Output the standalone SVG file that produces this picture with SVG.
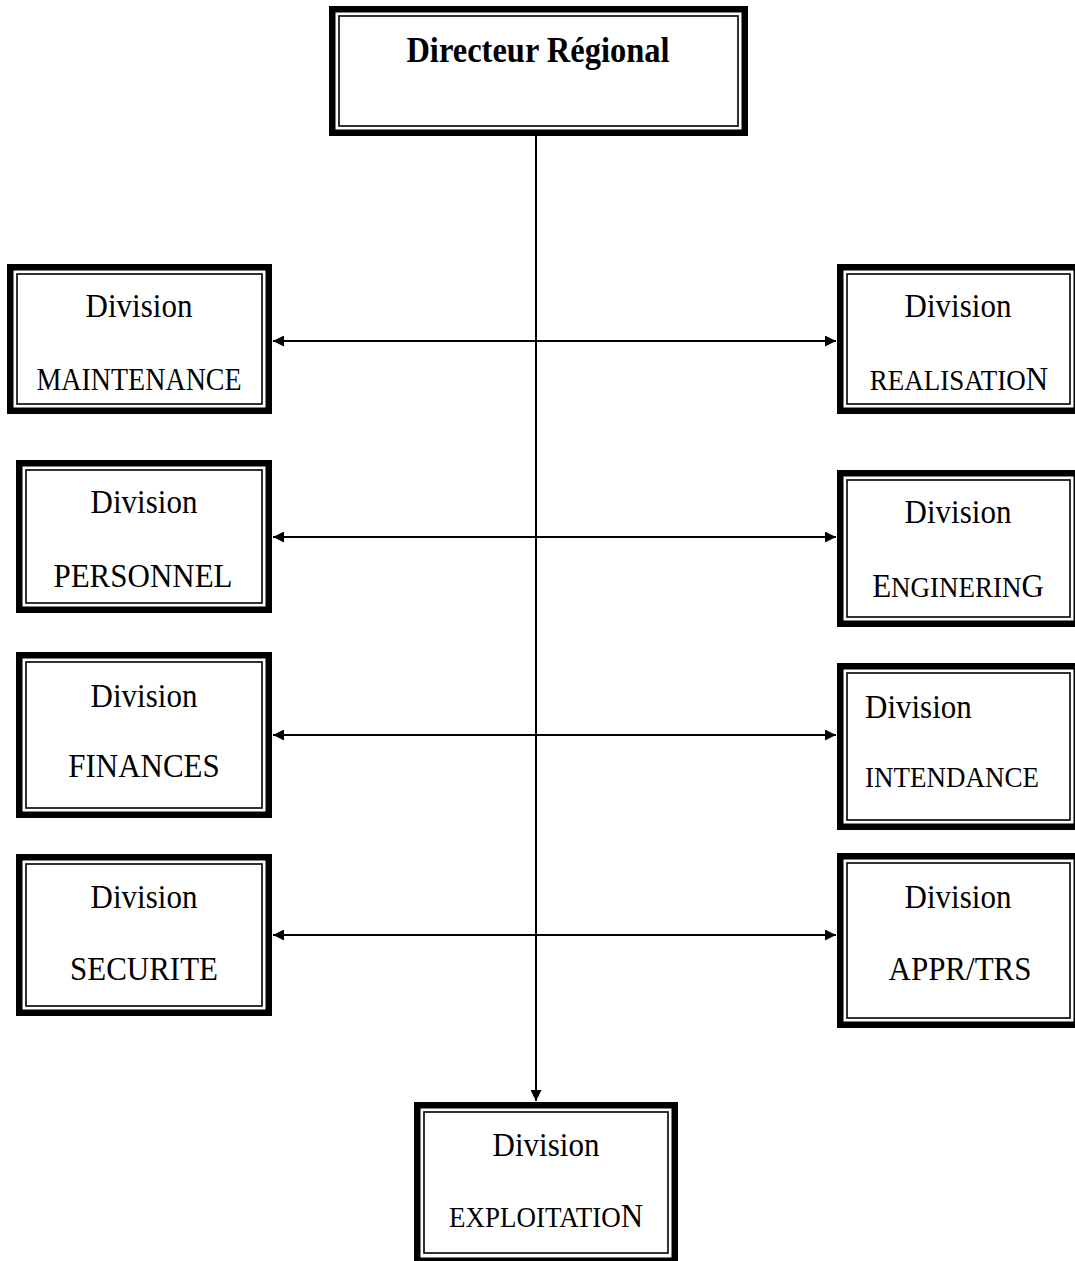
<svg xmlns="http://www.w3.org/2000/svg" width="1075" height="1261" viewBox="0 0 1075 1261">
  <style>
    .outer { fill: #fff; stroke: #000; stroke-width: 6.5; }
    .inner { fill: none; stroke: #000; stroke-width: 1.6; }
    .t { font-family: "Liberation Serif", "Times New Roman", serif; font-size: 31px; fill: #000; text-anchor: middle; }
    .s { font-size: 27px; }
    .b { font-weight: bold; font-size: 32.5px; }
    .l { text-anchor: start; }
    .link { stroke: #000; stroke-width: 2; fill: none; }
  </style>
  <defs>
    <marker id="head" viewBox="0 0 10 10" refX="10" refY="5" markerWidth="11" markerHeight="11" markerUnits="userSpaceOnUse" orient="auto-start-reverse">
      <path d="M0,0 L10,5 L0,10 Z" fill="#000"/>
    </marker>
  </defs>

  <rect width="1075" height="1261" fill="#fff"/>

  <!-- connectors -->
  <g id="connectors">
    <line class="link" x1="536" y1="136" x2="536" y2="1101" marker-end="url(#head)"/>
    <line class="link" x1="273" y1="341" x2="836" y2="341" marker-start="url(#head)" marker-end="url(#head)"/>
    <line class="link" x1="273" y1="537" x2="836" y2="537" marker-start="url(#head)" marker-end="url(#head)"/>
    <line class="link" x1="273" y1="735" x2="836" y2="735" marker-start="url(#head)" marker-end="url(#head)"/>
    <line class="link" x1="273" y1="935" x2="836" y2="935" marker-start="url(#head)" marker-end="url(#head)"/>
  </g>

  <!-- Directeur Régional -->
  <g id="directeur">
    <rect class="outer" x="332.25" y="9.25" width="412.5" height="123.5"/>
    <rect class="inner" x="339" y="16" width="399" height="110"/>
    <text class="t b" transform="translate(538 62) scale(1 1.12)">Directeur Régional</text>
  </g>

  <!-- left column -->
  <g id="maintenance">
    <rect class="outer" x="10.25" y="267.25" width="258.5" height="143.5"/>
    <rect class="inner" x="17" y="274" width="245" height="130"/>
    <text class="t" transform="translate(139 317) scale(1 1.12)">Division</text>
    <text class="t" style="font-size:28px" transform="translate(139 390) scale(1 1.12)">MAINTENANCE</text>
  </g>

  <g id="personnel">
    <rect class="outer" x="19.25" y="463.25" width="249.5" height="146.5"/>
    <rect class="inner" x="26" y="470" width="236" height="133"/>
    <text class="t" transform="translate(144 513) scale(1 1.12)">Division</text>
    <text class="t" transform="translate(143 587) scale(1 1.12)">PERSONNEL</text>
  </g>

  <g id="finances">
    <rect class="outer" x="19.25" y="655.25" width="249.5" height="159.5"/>
    <rect class="inner" x="26" y="662" width="236" height="146"/>
    <text class="t" transform="translate(144 707) scale(1 1.12)">Division</text>
    <text class="t" transform="translate(144 777) scale(1 1.12)">FINANCES</text>
  </g>

  <g id="securite">
    <rect class="outer" x="19.25" y="857.25" width="249.5" height="155.5"/>
    <rect class="inner" x="26" y="864" width="236" height="142"/>
    <text class="t" transform="translate(144 908) scale(1 1.12)">Division</text>
    <text class="t" transform="translate(144 980) scale(1 1.12)">SECURITE</text>
  </g>

  <!-- right column -->
  <g id="realisation">
    <rect class="outer" x="840.25" y="267.25" width="236.5" height="143.5"/>
    <rect class="inner" x="847" y="274" width="223" height="130"/>
    <text class="t" transform="translate(958 317) scale(1 1.12)">Division</text>
    <text class="t" transform="translate(959 390) scale(1 1.12)"><tspan class="s">REALISATIO</tspan>N</text>
  </g>

  <g id="engineering">
    <rect class="outer" x="840.25" y="473.25" width="236.5" height="150.5"/>
    <rect class="inner" x="847" y="480" width="223" height="137"/>
    <text class="t" transform="translate(958 523) scale(1 1.12)">Division</text>
    <text class="t" transform="translate(958 597) scale(1 1.12)">E<tspan class="s">NGINERIN</tspan>G</text>
  </g>

  <g id="intendance">
    <rect class="outer" x="840.25" y="666.25" width="236.5" height="160.5"/>
    <rect class="inner" x="847" y="673" width="223" height="147"/>
    <text class="t l" transform="translate(865 718) scale(1 1.12)">Division</text>
    <text class="t l s" transform="translate(865 787) scale(1 1.12)">INTENDANCE</text>
  </g>

  <g id="appr-trs">
    <rect class="outer" x="840.25" y="856.25" width="236.5" height="168.5"/>
    <rect class="inner" x="847" y="863" width="223" height="155"/>
    <text class="t" transform="translate(958 908) scale(1 1.12)">Division</text>
    <text class="t" transform="translate(960 980) scale(1 1.12)">APPR/TRS</text>
  </g>

  <!-- bottom -->
  <g id="exploitation">
    <rect class="outer" x="417.25" y="1105.25" width="257.5" height="155.5"/>
    <rect class="inner" x="424" y="1112" width="244" height="141"/>
    <text class="t" transform="translate(546 1156) scale(1 1.12)">Division</text>
    <text class="t" transform="translate(546 1227) scale(1 1.12)"><tspan class="s">EXPLOITATIO</tspan>N</text>
  </g>
</svg>
